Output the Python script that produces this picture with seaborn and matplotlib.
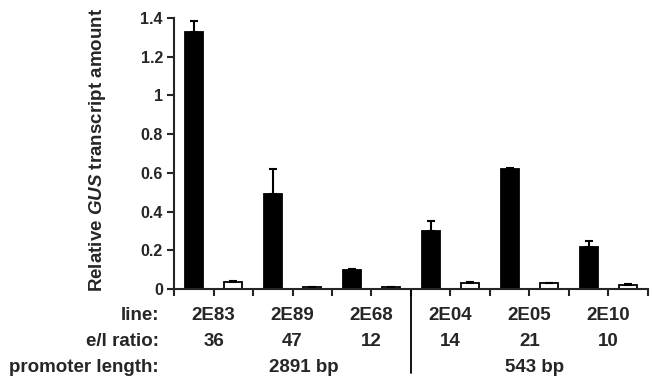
import numpy as np
import pandas as pd
import matplotlib
matplotlib.use('Agg')
import matplotlib.pyplot as plt
import matplotlib.transforms as mtransforms
import seaborn as sns

# Data
lines = ['2E83', '2E89', '2E68', '2E04', '2E05', '2E10']
el_ratio = ['36', '47', '12', '14', '21', '10']
promoter = ['2891 bp', '543 bp']
dark_vals = [1.33, 0.49, 0.10, 0.30, 0.62, 0.217]
dark_err = [0.055, 0.13, 0.005, 0.05, 0.005, 0.033]
light_vals = [0.036, 0.008, 0.008, 0.03, 0.03, 0.02]
light_err = [0.005, 0.0, 0.0, 0.008, 0.0, 0.005]

sns.set_style('white')
plt.rcParams['font.family'] = ['Liberation Sans', 'DejaVu Sans']
plt.rcParams['font.weight'] = 'bold'
plt.rcParams['mathtext.fontset'] = 'custom'
plt.rcParams['mathtext.it'] = 'Liberation Sans:italic:bold'
plt.rcParams['mathtext.rm'] = 'Liberation Sans:bold'

# one slot per bar: dark bar then light bar for each line
slots = []
vals = []
errs = []
colors = []
for i, ln in enumerate(lines):
    slots += [ln + '_e', ln + '_l']
    vals += [dark_vals[i], light_vals[i]]
    errs += [dark_err[i], light_err[i]]
    colors += ['black', 'white']
df = pd.DataFrame({'slot': slots, 'value': vals})

fig = plt.figure(figsize=(6.51, 3.81), dpi=100)
ax = fig.add_axes([174 / 651, 1 - 289 / 381, 474 / 651, 271 / 381])

sns.barplot(data=df, x='slot', y='value', hue='slot', palette=colors,
            legend=False, width=0.45, edgecolor='black', linewidth=1.3,
            errorbar=None, ax=ax)
pos = np.arange(len(vals))
ax.errorbar(pos, vals, yerr=[np.zeros(len(errs)), errs], fmt='none',
            ecolor='black', elinewidth=1.5, capsize=3, capthick=1.5)

ax.set_xlim(-0.5, len(vals) - 0.5)
ax.set_ylim(0, 1.4)
ax.set_yticks([0, 0.2, 0.4, 0.6, 0.8, 1, 1.2, 1.4])
ax.set_yticklabels(['0', '0.2', '0.4', '0.6', '0.8', '1', '1.2', '1.4'])
ax.set_xticks(np.arange(-0.5, len(vals), 1.0))
ax.set_xticklabels([])
ax.set_xlabel('')
ax.set_ylabel(r'Relative $\mathit{GUS}$ transcript amount', fontsize=13.5,
              fontweight='bold')
ax.yaxis.label.set_va('center')
ax.yaxis.set_label_coords((97 - 174) / 474, (289 - 150) / 271)
ax.tick_params(axis='both', direction='out', length=5, width=1.5,
               labelsize=11.5, pad=3, bottom=True, left=True)
sns.despine(ax=ax)
for s in ['left', 'bottom']:
    ax.spines[s].set_linewidth(1.5)

# rows of labels under the axis
tr = mtransforms.blended_transform_factory(ax.transData, fig.transFigure)
row_y = [1 - 315 / 381, 1 - 342 / 381, 1 - 367 / 381]
fs = 13.5
for i in range(len(lines)):
    ax.text(2 * i + 0.5, row_y[0], lines[i], transform=tr, ha='center',
            va='center', fontsize=fs, fontweight='bold')
    ax.text(2 * i + 0.5, row_y[1], el_ratio[i], transform=tr, ha='center',
            va='center', fontsize=fs, fontweight='bold')
ax.text(2.78, row_y[2], promoter[0], transform=tr, ha='center', va='center',
        fontsize=fs, fontweight='bold')
ax.text(8.64, row_y[2], promoter[1], transform=tr, ha='center', va='center',
        fontsize=fs, fontweight='bold')
for txt, y in zip(['line:', 'e/l ratio:', 'promoter length:'], row_y):
    fig.text(159 / 651, y, txt, ha='right', va='center', fontsize=fs,
             fontweight='bold')

# divider between the two promoter groups
ax.plot([5.5, 5.5], [0, -(373 - 289) / 271],
        transform=mtransforms.blended_transform_factory(ax.transData, ax.transAxes),
        color='black', linewidth=1.3, clip_on=False)

fig.savefig('out.png', dpi=100)
